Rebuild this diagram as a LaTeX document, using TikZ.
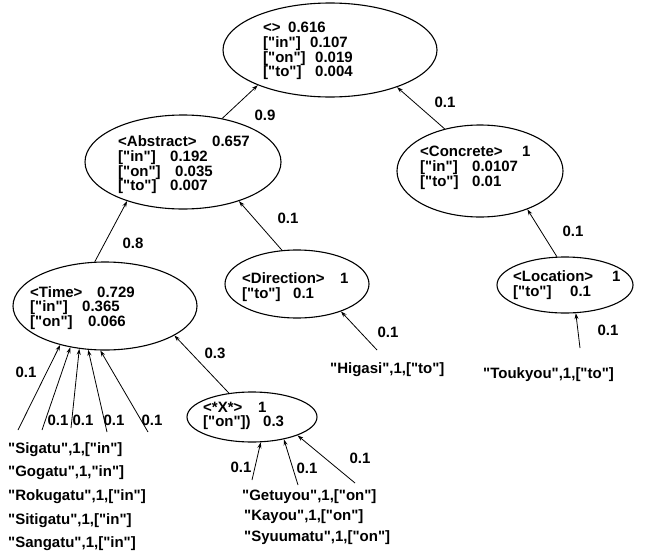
\documentclass[tikz,border=0pt]{standalone}
\usepackage{fontspec}
\setmainfont{Liberation Sans}[Ligatures=TeXOff]
\usetikzlibrary{shapes.geometric,arrows.meta}
\begin{document}
\begin{tikzpicture}[x=1pt,y=-1pt,
  ell/.style={draw, ellipse, line width=1.1pt, inner sep=0pt},
  txt/.style={anchor=west, align=left, inner sep=0pt, font=\bfseries\fontsize{15}{14.7}\selectfont},
  leaf/.style={anchor=base west, inner sep=0pt, font=\bfseries\fontsize{15}{18}\selectfont},
  lab/.style={inner sep=0pt, font=\bfseries\fontsize{15}{18}\selectfont},
  arr/.style={-{Stealth[length=6pt,width=4pt]}, line width=0.8pt}]
\useasboundingbox (0,0) rectangle (645,554);
% ellipses
\node[ell, minimum width=214pt, minimum height=94pt] (top) at (330,50) {};
\node[ell, minimum width=196pt, minimum height=94pt] (abs) at (183,162) {};
\node[ell, minimum width=166pt, minimum height=92pt] (conc) at (480,171) {};
\node[ell, minimum width=184pt, minimum height=88pt] (time) at (105,306) {};
\node[ell, minimum width=144pt, minimum height=68pt] (dir) at (297,284) {};
\node[ell, minimum width=136pt, minimum height=56pt] (loc) at (565,285) {};
\node[ell, minimum width=130pt, minimum height=50pt] (x) at (252,417) {};
% ellipse texts
\node[txt] (ttop) at (263,51) {\makebox[25pt][l]{<>}0.616\\\makebox[47pt][l]{["in"]}0.107\\\makebox[52pt][l]{["on"]}0.019\\\makebox[52pt][l]{["to"]}0.004};
\node[txt] (tabs) at (118,165) {\makebox[94pt][l]{<Abstract>}0.657\\\makebox[52pt][l]{["in"]}0.192\\\makebox[57pt][l]{["on"]}0.035\\\makebox[52pt][l]{["to"]}0.007};
\node[txt] (tconc) at (420,168) {\makebox[102pt][l]{<Concrete>}1\\\makebox[52pt][l]{["in"]}0.0107\\\makebox[52pt][l]{["to"]}0.01};
\node[txt] (ttime) at (30,308) {\makebox[67pt][l]{<Time>}0.729\\\makebox[52pt][l]{["in"]}0.365\\\makebox[58pt][l]{["on"]}0.066};
\node[txt] (tdir) at (242,287) {\makebox[98pt][l]{<Direction>}1\\\makebox[51pt][l]{["to"]}0.1};
\node[txt] (tloc) at (513,285) {\makebox[99pt][l]{<Location>}1\\\makebox[57pt][l]{["to"]}0.1};
\node[txt] (tx) at (203,416) {\makebox[55pt][l]{<*X*>}1\\\makebox[60pt][l]{["on"])}0.3};
% leaves
\node[leaf] (higasi) at (330,373) {"Higasi",1,["to"]};
\node[leaf] (toukyou) at (483,378) {"Toukyou",1,["to"]};
\node[leaf] (sigatu) at (8,453) {"Sigatu",1,["in"]};
\node[leaf] (gogatu) at (8,476) {"Gogatu",1,"in"]};
\node[leaf] (rokugatu) at (8,500) {"Rokugatu",1,["in"]};
\node[leaf] (sitigatu) at (8,524) {"Sitigatu",1,["in"]};
\node[leaf] (sangatu) at (8,547) {"Sangatu",1,["in"]};
\node[leaf] (getuyou) at (242,500) {"Getuyou",1,["on"]};
\node[leaf] (kayou) at (244,520) {"Kayou",1,["on"]};
\node[leaf] (syuumatu) at (244,541) {"Syuumatu",1,["on"]};
% free ends
\coordinate (hg) at (377,350);
\coordinate (tk) at (580,348);
\coordinate (t1) at (18,430);
\coordinate (t2) at (42,430);
\coordinate (t3) at (71,428);
\coordinate (t4) at (107,432);
\coordinate (t5) at (148,432);
\coordinate (x1) at (252,480);
\coordinate (x2) at (298,485);
\coordinate (x3) at (355,483);
% connectors
\draw[arr] (abs.48) -- (top.206);
\draw[arr] (conc.130) -- (top.331);
\draw[arr] (time.103) -- (abs.215);
\draw[arr] (dir.114) -- (abs.325);
\draw[arr] (loc.106) -- (conc.321);
\draw[arr] (hg) -- (dir.328);
\draw[arr] (tk) -- (loc.291);
\draw[arr] (x.134) -- (time.337);
\draw[arr] (t1) -- (time.221);
\draw[arr] (t2) -- (time.230);
\draw[arr] (t3) -- (time.239);
\draw[arr] (t4) -- (time.249);
\draw[arr] (t5) -- (time.264);
\draw[arr] (x1) -- (x.289);
\draw[arr] (x2) -- (x.325);
\draw[arr] (x3) -- (x.338);
% labels
\node[lab] (l1) at (265,115) {0.9};
\node[lab] (l2) at (445,102) {0.1};
\node[lab] (l3) at (133,243) {0.8};
\node[lab] (l4) at (288,218) {0.1};
\node[lab] (l5) at (573,231) {0.1};
\node[lab] (l6) at (388,332) {0.1};
\node[lab] (l7) at (608,330) {0.1};
\node[lab] (l8) at (215,353) {0.3};
\node[lab] (l9) at (26,372) {0.1};
\node[lab] (l10) at (58,420) {0.1};
\node[lab] (l11) at (83,420) {0.1};
\node[lab] (l12) at (114,420) {0.1};
\node[lab] (l13) at (152,420) {0.1};
\node[lab] (l14) at (241,467) {0.1};
\node[lab] (l15) at (307,468) {0.1};
\node[lab] (l16) at (360,458) {0.1};
\end{tikzpicture}
\end{document}
